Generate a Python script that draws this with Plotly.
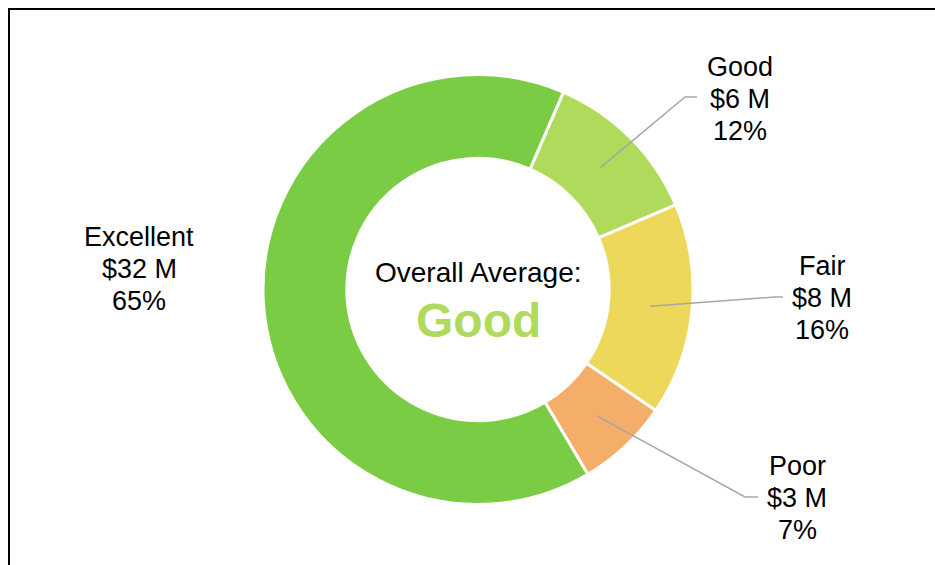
import math
import plotly.graph_objects as go

# ratings and dollar value (millions) per rating
ratings = ["Good", "Fair", "Poor", "Excellent"]
value_m = [5.9, 7.8, 3.4, 31.8]
colors = ["#AFDA5B", "#EDD85C", "#F5AE69", "#7BCC45"]
overall = "Good"

W, H = 935, 565
cx, cy, R, hole = 478, 289.5, 215, 0.61
start_deg = 23.4  # first slice starts here, clockwise from 12 o'clock
FONT = "Arial, Liberation Sans, sans-serif"


def px(x):
    return x / W


def py(y):
    return 1 - y / H


total = sum(value_m)
pct = [round(v / total * 100) for v in value_m]

fig = go.Figure()
fig.add_trace(go.Pie(
    labels=ratings, values=value_m, sort=False, direction="clockwise",
    rotation=start_deg, hole=hole, textinfo="none", showlegend=False,
    marker=dict(colors=colors, line=dict(color="white", width=3)),
    domain=dict(x=[px(cx - R), px(cx + R)], y=[py(cy + R), py(cy - R)]),
))

# label anchors (text centre, middle line) and leader-line elbows, in pixels
label_pos = {
    "Good": (740, 99, (685, 97), (697, 97)),
    "Fair": (822, 298, (775, 297), (783, 297)),
    "Poor": (797, 498, (745, 497), (758, 497)),
    "Excellent": (139, 269, None, None),
}

shapes = [dict(type="rect", xref="paper", yref="paper",
               x0=px(9), y0=py(600), x1=px(1000), y1=py(9),
               line=dict(color="black", width=2))]
annotations = []
cum = 0
for name, v, p in zip(ratings, value_m, pct):
    mid = math.radians(start_deg + (cum + v / 2) / total * 360)
    cum += v
    tx, ty, elbow, end = label_pos[name]
    if elbow is not None:
        rm = R * (1 + hole) / 2
        sx, sy = cx + rm * math.sin(mid), cy - rm * math.cos(mid)
        path = "M {} {} L {} {} L {} {}".format(
            px(sx), py(sy), px(elbow[0]), py(elbow[1]), px(end[0]), py(end[1]))
        shapes.append(dict(type="path", xref="paper", yref="paper", path=path,
                           layer="above", line=dict(color="#A6A6A6", width=1.5)))
    for i, line in enumerate([name, "${:.0f} M".format(v), "{}%".format(p)]):
        annotations.append(dict(
            x=px(tx), y=py(ty + (i - 1) * 32), xref="paper", yref="paper",
            text=line, showarrow=False, xanchor="center", yanchor="middle",
            font=dict(family=FONT, size=27, color="black")))

annotations.append(dict(x=px(cx), y=py(272), xref="paper", yref="paper",
                        text="Overall Average:", showarrow=False,
                        font=dict(family=FONT, size=28, color="black")))
annotations.append(dict(x=px(cx), y=py(320), xref="paper", yref="paper",
                        text="<b>" + overall + "</b>", showarrow=False,
                        font=dict(family=FONT, size=48,
                                  color=colors[ratings.index(overall)])))

fig.update_layout(
    width=W, height=H, margin=dict(l=0, r=0, t=0, b=0),
    paper_bgcolor="white", plot_bgcolor="white",
    shapes=shapes, annotations=annotations,
)

# drop the default page margin so the figure fills the window
fig.write_html("out.html", config={"displayModeBar": False},
               post_script="document.body.style.margin='0';")
